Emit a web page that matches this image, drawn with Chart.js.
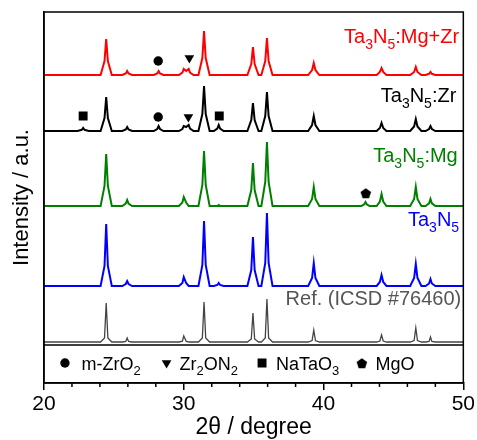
<!DOCTYPE html>
<html>
<head>
<meta charset="utf-8">
<script src="https://cdn.jsdelivr.net/npm/chart.js@4.4.1/dist/chart.umd.min.js"></script>
<style>
  html, body { margin: 0; padding: 0; background: #fff; }
</style>
</head>
<body>
<canvas id="xrd" width="477" height="440"></canvas>
<script>
// 2-theta grid (degree), grouped per reflection
const twoTheta = [
    20,
    22.4, 22.7, 22.8, 22.9, 23.2,
    24.05, 24.33, 24.45, 24.57, 24.85,
    25.6, 25.85, 25.95, 26.05, 26.3,
    27.85, 28.1, 28.2, 28.3, 28.55,
    29.65, 29.9, 30.0, 30.17, 30.35, 30.45, 30.7,
    31.05, 31.33, 31.45, 31.57, 31.85,
    32.15, 32.4, 32.5, 32.6, 32.85,
    34.55, 34.83, 34.95, 35.07, 35.35,
    35.55, 35.83, 35.95, 36.07, 36.35,
    38.9, 39.18, 39.3, 39.42, 39.7,
    42.7, 42.9, 43.0, 43.1, 43.3,
    43.8, 44.03, 44.15, 44.27, 44.5,
    46.2, 46.48, 46.6, 46.72, 47.0,
    47.3, 47.55, 47.65, 47.75, 48.0,
    50
];

// intensities (a.u.) on the grid above
const mgZr = [
    0,
    0, 0, 0, 0, 0,
    0, 14, 36, 14, 0,
    0, 1.6, 4, 1.6, 0,
    0, 1.6, 4, 1.6, 0,
    0, 2.4, 6, 4, 6, 2.4, 0,
    0, 17, 44, 17, 0,
    0, 0, 0, 0, 0,
    0, 11, 28, 11, 0,
    0, 14, 37, 14, 0,
    0, 5, 12, 5, 0,
    0, 0, 0, 0, 0,
    0, 3, 7, 3, 0,
    0, 3, 8, 3, 0,
    0, 1.2, 3, 1.2, 0,
    0
];
const zrOnly = [
    0,
    0, 1.2, 3, 1.2, 0,
    0, 13, 34, 13, 0,
    0, 1.6, 4, 1.6, 0,
    0, 2, 5, 2, 0,
    0, 2, 5, 4, 6, 2.4, 0,
    0, 17, 45, 17, 0,
    0, 2.4, 6, 2.4, 0,
    0, 11, 28, 11, 0,
    0, 15, 39, 15, 0,
    0, 6, 15, 6, 0,
    0, 0, 0, 0, 0,
    0, 3, 8, 3, 0,
    0, 4.5, 12, 4.5, 0,
    0, 2, 5, 2, 0,
    0
];
const mgOnly = [
    0,
    0, 0, 0, 0, 0,
    0, 20, 52, 20, 0,
    0, 2.4, 6, 2.4, 0,
    0, 0, 0, 0, 0,
    0, 3.5, 9, 3.5, 0, 0, 0,
    0, 21, 55, 21, 0,
    0, 0, 1, 0, 0,
    0, 16, 43, 16, 0,
    0, 24, 64, 24, 0,
    0, 7, 19, 7, 0,
    0, 1.6, 4, 1.6, 0,
    0, 4.5, 12, 4.5, 0,
    0, 7, 19, 7, 0,
    0, 2.7, 7, 2.7, 0,
    0
];
const pristine = [
    0,
    0, 0, 0, 0, 0,
    0, 20, 62, 20, 0,
    0, 2, 5, 2, 0,
    0, 0, 0, 0, 0,
    0, 3, 9, 3, 0, 0, 0,
    0, 21, 65, 21, 0,
    0, 1, 3, 1, 0,
    0, 16, 49, 16, 0,
    0, 23, 73, 23, 0,
    0, 8, 23, 8, 0,
    0, 0, 0, 0, 0,
    0, 4, 11, 4, 0,
    0, 8, 22, 8, 0,
    0, 2.5, 7, 2.5, 0,
    0
];
const icsd = [
    0,
    0, 0, 0, 0, 0,
    0, 4, 39, 4, 0,
    0, 0.5, 4, 0.5, 0,
    0, 0, 0, 0, 0,
    0, 0.8, 6, 0.8, 0, 0, 0,
    0, 4, 40, 4, 0,
    0, 0, 0, 0, 0,
    0, 3, 29, 3, 0,
    0, 4, 43, 4, 0,
    0, 1.5, 12, 1.5, 0,
    0, 0, 0, 0, 0,
    0, 1, 7, 1, 0,
    0, 1.5, 14, 1.5, 0,
    0, 0.5, 5, 0.5, 0,
    0
];

const seriesNames = ['Ta_3N_5:Mg+Zr', 'Ta_3N_5:Zr', 'Ta_3N_5:Mg', 'Ta_3N_5', 'Ref. (ICSD #76460)'];
const seriesValues = [mgZr, zrOnly, mgOnly, pristine, icsd];
const stackOffsets = [308, 252, 177, 97, 41];

// impurity phase marks [2theta, a.u.]
const zro2Marks = [[28.17, 322], [28.17, 266]];
const zr2on2Marks = [[30.4, 325], [30.33, 266]];
const natao3Marks = [[22.8, 267], [32.54, 267]];
const mgoMarks = [[43.02, 190]];

const phaseNames = ['m-ZrO_2', 'Zr_2ON_2', 'NaTaO_3', 'MgO'];
const xMinorTicks = [22, 24, 26, 28, 32, 34, 36, 38, 42, 44, 46, 48];

// layout / styling
const FONT = '"Liberation Sans", Arial, sans-serif';
const lineColors = ['#ff0000', '#000000', '#008000', '#0000ff', '#444444'];
const textColors = ['#ff0000', '#000000', '#008000', '#0000ff', '#555555'];
const labelSpots = [[49.7, 340], [49.5, 281], [49.6, 221], [49.7, 157], [49.85, 78]];
const keyDivider = 38;
const keySymbolX = [21.5, 28.77, 35.6, 42.74];
const keyTextX = [22.69, 29.69, 36.59, 43.71];
const keyY = 20;

function pentagonImage(size) {
    const c = document.createElement('canvas');
    c.width = size;
    c.height = size;
    const g = c.getContext('2d');
    const r = size / 2;
    g.fillStyle = '#000';
    g.beginPath();
    for (let k = 0; k < 5; k++) {
        const a = -Math.PI / 2 + k * 2 * Math.PI / 5;
        const px = r + (r - 0.5) * Math.cos(a);
        const py = r + 0.8 + (r - 0.5) * Math.sin(a);
        if (k === 0) g.moveTo(px, py); else g.lineTo(px, py);
    }
    g.closePath();
    g.fill();
    return c;
}
const pentagon = pentagonImage(12);

// text with "_x" meaning subscript x
function richText(ctx, text, x, y, size, color, align) {
    const parts = [];
    for (let i = 0; i < text.length; i++) {
        if (text[i] === '_') {
            parts.push([text[i + 1], true]);
            i++;
        } else if (parts.length && !parts[parts.length - 1][1]) {
            parts[parts.length - 1][0] += text[i];
        } else {
            parts.push([text[i], false]);
        }
    }
    const big = size + 'px ' + FONT;
    const small = Math.round(size * 0.7) + 'px ' + FONT;
    let w = 0;
    parts.forEach(p => {
        ctx.font = p[1] ? small : big;
        p.push(ctx.measureText(p[0]).width);
        w += p[2];
    });
    let cx = align === 'right' ? x - w : x;
    ctx.fillStyle = color;
    ctx.textAlign = 'left';
    ctx.textBaseline = 'alphabetic';
    parts.forEach(p => {
        ctx.font = p[1] ? small : big;
        ctx.fillText(p[0], cx, p[1] ? y + size * 0.3 : y);
        cx += p[2];
    });
}

const decorPlugin = {
    id: 'decor',
    afterDraw(chart) {
        const { ctx, chartArea: a, scales: { x, y } } = chart;
        ctx.save();
        ctx.strokeStyle = '#000';
        ctx.lineWidth = 1.5;
        ctx.strokeRect(a.left, a.top, a.right - a.left, a.bottom - a.top);

        // divider above the phase key
        const yd = y.getPixelForValue(keyDivider);
        ctx.beginPath();
        ctx.moveTo(a.left, yd);
        ctx.lineTo(a.right, yd);
        ctx.stroke();

        // minor ticks
        ctx.beginPath();
        xMinorTicks.forEach(v => {
            const px = x.getPixelForValue(v);
            ctx.moveTo(px, a.bottom);
            ctx.lineTo(px, a.bottom + 4);
        });
        ctx.stroke();

        // series labels
        seriesNames.forEach((name, i) => {
            richText(ctx, name, x.getPixelForValue(labelSpots[i][0]), y.getPixelForValue(labelSpots[i][1]), 20, textColors[i], 'right');
        });

        // phase key text
        const ky = y.getPixelForValue(keyY) + 6.5;
        phaseNames.forEach((name, i) => {
            richText(ctx, name, x.getPixelForValue(keyTextX[i]), ky, 18, '#000', 'left');
        });
        ctx.restore();
    }
};

const toPoints = pairs => pairs.map(p => ({ x: p[0], y: p[1] }));

const datasets = seriesValues.map((vals, i) => ({
    data: twoTheta.map((t, k) => ({ x: t, y: stackOffsets[i] + vals[k] })),
    borderColor: lineColors[i],
    borderWidth: i === 4 ? 1.3 : 2,
    pointRadius: 0,
    tension: 0,
    fill: false
}));

const markStyle = (pts, style, radius, rotation) => ({
    data: pts,
    showLine: false,
    pointStyle: style,
    pointRadius: radius,
    pointRotation: rotation || 0,
    pointBackgroundColor: '#000',
    pointBorderColor: '#000',
    pointBorderWidth: 0,
    order: -1
});

datasets.push(markStyle(toPoints(zro2Marks).concat([{ x: keySymbolX[0], y: keyY }]), 'circle', 4.7));
datasets.push(markStyle(toPoints(zr2on2Marks).concat([{ x: keySymbolX[1], y: keyY }]), 'triangle', 5.6, 180));
datasets.push(markStyle(toPoints(natao3Marks).concat([{ x: keySymbolX[2], y: keyY }]), 'rect', 6.3));
datasets.push(markStyle(toPoints(mgoMarks).concat([{ x: keySymbolX[3], y: keyY }]), pentagon, 6));

new Chart(document.getElementById('xrd'), {
    type: 'line',
    data: { datasets: datasets },
    options: {
        responsive: false,
        animation: false,
        layout: { padding: { top: 12, right: 12, left: 0, bottom: 0 } },
        plugins: { legend: { display: false }, tooltip: { enabled: false } },
        scales: {
            x: {
                type: 'linear',
                min: 20,
                max: 50,
                ticks: {
                    stepSize: 10,
                    maxRotation: 0,
                    padding: 2,
                    color: '#000',
                    font: { family: FONT, size: 21 }
                },
                grid: { display: true, drawOnChartArea: false, drawTicks: true, tickLength: 7, color: '#000', lineWidth: 1.5 },
                border: { display: true, color: '#000', width: 1.5 },
                title: {
                    display: true,
                    text: '2θ / degree',
                    color: '#000',
                    font: { family: FONT, size: 23, lineHeight: 1 },
                    padding: { top: 0, bottom: 1 }
                },
                afterFit(scale) { scale.height = 57; }
            },
            y: {
                min: 0,
                max: 371,
                ticks: { display: false },
                grid: { display: false },
                border: { display: true, color: '#000', width: 1.5 },
                title: {
                    display: true,
                    text: 'Intensity / a.u.',
                    color: '#000',
                    font: { family: FONT, size: 22, lineHeight: 1 },
                    padding: { top: 11, bottom: 0 }
                },
                afterFit(scale) { scale.width = 44; }
            }
        }
    },
    plugins: [decorPlugin]
});
</script>
</body>
</html>
